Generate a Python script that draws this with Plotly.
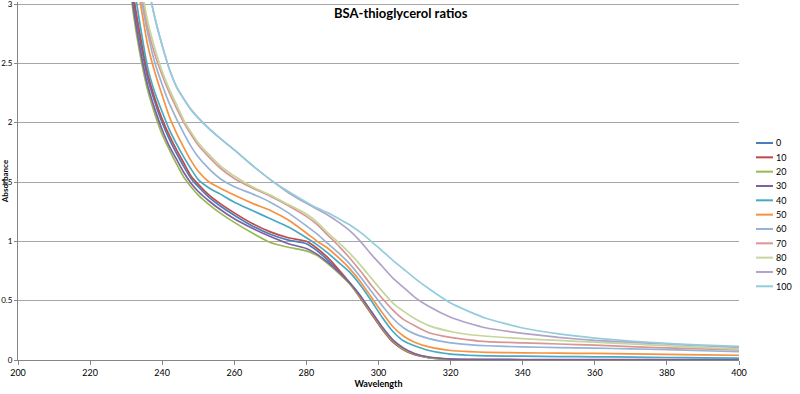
import plotly.graph_objects as go

wavelength = [226, 228, 230, 232, 234, 236, 238, 240, 242, 244, 246, 248, 250, 253, 256, 260, 265, 270, 275, 280,
              283, 286, 289, 292, 295, 298, 301, 304, 307, 310, 314, 320, 325, 330, 340, 350, 360, 370, 380, 390, 400]

ratio_0 = [4.8, 4.2, 3.6, 3.03, 2.67, 2.37, 2.17, 2.0, 1.86, 1.74, 1.63, 1.53, 1.46, 1.37, 1.30, 1.22, 1.13, 1.06, 1.01, 0.98,
           0.92, 0.84, 0.75, 0.65, 0.54, 0.40, 0.27, 0.16, 0.09, 0.05, 0.02, 0.006, 0.004, 0.003, 0.002, 0.002, 0.002, 0.002, 0.002, 0.002, 0.002]
ratio_10 = [4.9, 4.3, 3.65, 3.08, 2.72, 2.41, 2.2, 2.03, 1.89, 1.77, 1.66, 1.55, 1.48, 1.39, 1.32, 1.24, 1.15, 1.08, 1.03, 1.00,
            0.94, 0.86, 0.76, 0.65, 0.52, 0.39, 0.26, 0.15, 0.085, 0.045, 0.02, 0.006, 0.004, 0.003, 0.003, 0.003, 0.003, 0.003, 0.003, 0.003, 0.003]
ratio_20 = [4.6, 4.0, 3.45, 2.92, 2.55, 2.27, 2.07, 1.90, 1.77, 1.65, 1.54, 1.46, 1.39, 1.31, 1.24, 1.16, 1.07, 0.99, 0.95, 0.92,
            0.88, 0.81, 0.73, 0.64, 0.53, 0.40, 0.27, 0.16, 0.09, 0.05, 0.02, 0.006, 0.003, 0.002, 0.002, 0.001, 0.001, 0.001, 0.001, 0.001, 0.001]
ratio_30 = [4.7, 4.1, 3.5, 2.97, 2.6, 2.31, 2.11, 1.94, 1.80, 1.69, 1.58, 1.49, 1.42, 1.34, 1.27, 1.19, 1.11, 1.04, 0.98, 0.94,
            0.89, 0.82, 0.74, 0.65, 0.54, 0.41, 0.28, 0.17, 0.10, 0.055, 0.025, 0.008, 0.004, 0.003, 0.002, 0.002, 0.002, 0.002, 0.002, 0.002, 0.002]
ratio_40 = [5.0, 4.4, 3.8, 3.2, 2.8, 2.46, 2.25, 2.09, 1.94, 1.82, 1.71, 1.61, 1.52, 1.45, 1.40, 1.33, 1.26, 1.19, 1.12, 1.03,
            0.97, 0.90, 0.82, 0.74, 0.63, 0.50, 0.36, 0.24, 0.16, 0.12, 0.08, 0.05, 0.04, 0.035, 0.032, 0.029, 0.027, 0.024, 0.021, 0.018, 0.015]
ratio_50 = [5.3, 4.7, 4.0, 3.4, 3.0, 2.65, 2.42, 2.23, 2.05, 1.91, 1.79, 1.68, 1.59, 1.50, 1.45, 1.39, 1.32, 1.26, 1.18, 1.07,
            1.00, 0.94, 0.86, 0.77, 0.66, 0.53, 0.40, 0.28, 0.20, 0.15, 0.11, 0.08, 0.07, 0.065, 0.06, 0.058, 0.055, 0.052, 0.048, 0.044, 0.04]
ratio_60 = [5.5, 4.8, 4.15, 3.5, 3.08, 2.75, 2.5, 2.32, 2.16, 2.03, 1.91, 1.80, 1.71, 1.61, 1.53, 1.46, 1.40, 1.33, 1.24, 1.13,
            1.06, 0.98, 0.90, 0.81, 0.70, 0.58, 0.46, 0.35, 0.27, 0.22, 0.18, 0.145, 0.13, 0.12, 0.11, 0.105, 0.10, 0.094, 0.087, 0.078, 0.07]
ratio_70 = [5.6, 4.9, 4.25, 3.6, 3.15, 2.8, 2.57, 2.4, 2.25, 2.12, 2.0, 1.9, 1.81, 1.71, 1.62, 1.53, 1.45, 1.38, 1.30, 1.21,
            1.14, 1.05, 0.96, 0.86, 0.75, 0.63, 0.52, 0.42, 0.34, 0.29, 0.23, 0.19, 0.17, 0.155, 0.145, 0.135, 0.125, 0.112, 0.102, 0.093, 0.085]
ratio_80 = [5.7, 5.0, 4.3, 3.65, 3.2, 2.85, 2.62, 2.43, 2.28, 2.15, 2.02, 1.92, 1.83, 1.73, 1.64, 1.55, 1.46, 1.39, 1.31, 1.23,
            1.16, 1.07, 0.99, 0.90, 0.80, 0.69, 0.58, 0.48, 0.41, 0.35, 0.29, 0.24, 0.215, 0.20, 0.18, 0.165, 0.15, 0.135, 0.12, 0.105, 0.092]
ratio_90 = [6.0, 5.3, 4.6, 4.0, 3.55, 3.17, 2.88, 2.65, 2.45, 2.3, 2.2, 2.11, 2.04, 1.95, 1.87, 1.77, 1.64, 1.52, 1.41, 1.32,
            1.27, 1.22, 1.16, 1.09, 1.00, 0.89, 0.79, 0.69, 0.61, 0.53, 0.45, 0.36, 0.31, 0.27, 0.225, 0.19, 0.165, 0.15, 0.135, 0.12, 0.107]
ratio_100 = [6.0, 5.3, 4.6, 4.0, 3.55, 3.17, 2.88, 2.65, 2.45, 2.3, 2.2, 2.11, 2.04, 1.95, 1.87, 1.77, 1.64, 1.52, 1.42, 1.33,
             1.28, 1.24, 1.19, 1.14, 1.075, 1.0, 0.92, 0.84, 0.765, 0.69, 0.60, 0.48, 0.41, 0.35, 0.27, 0.22, 0.185, 0.16, 0.14, 0.125, 0.115]

series_names = ["0", "10", "20", "30", "40", "50", "60", "70", "80", "90", "100"]
series_values = [ratio_0, ratio_10, ratio_20, ratio_30, ratio_40, ratio_50, ratio_60, ratio_70, ratio_80, ratio_90, ratio_100]
series_colors = ["#4A7EBB", "#BE4B48", "#98B954", "#7D60A0", "#46AAC5", "#F69240",
                 "#95B3D7", "#D99694", "#C3D69B", "#B3A2C7", "#93CDDD"]

x_ticks = [200, 220, 240, 260, 280, 300, 320, 340, 360, 380, 400]
y_ticks = [0, 0.5, 1, 1.5, 2, 2.5, 3]
y_tick_labels = ["0", "0.5", "1", "1.5", "2", "2.5", "3"]

FONT = "Lato, 'Open Sans', sans-serif"

W, H = 800, 394
ML, MR, MT, MB = 18, 61, 2, 34
PW, PH = W - ML - MR, H - MT - MB
Y_TOP = 3 + 2 / (356 / 3)  # small headroom so the top grid line / "3" label is drawn


def px_to_paper(px, py):
    return (px - ML) / PW, (H - MB - py) / PH


fig = go.Figure()
for name, vals, col in zip(series_names, series_values, series_colors):
    fig.add_trace(go.Scatter(
        x=wavelength, y=vals, name=name, mode="lines",
        line=dict(color=col, width=1.7, shape="spline", smoothing=0.5),
        showlegend=False,
    ))

# compact Excel-style legend
shapes = []
annotations = []
for i, (name, col) in enumerate(zip(series_names, series_colors)):
    yy = 143 + i * 14.33
    x0, y0 = px_to_paper(756, yy)
    x1, _ = px_to_paper(773, yy)
    shapes.append(dict(type="line", xref="paper", yref="paper", x0=x0, x1=x1, y0=y0, y1=y0,
                       line=dict(color=col, width=2)))
    tx, _ = px_to_paper(774, yy)
    annotations.append(dict(text=name, xref="paper", yref="paper", x=tx, y=y0,
                            xanchor="left", yanchor="middle", showarrow=False,
                            font=dict(size=9, family=FONT, color="#000000")))

tx, ty = px_to_paper(401, 13)
annotations.append(dict(text="<b>BSA-thioglycerol ratios</b>", xref="paper", yref="paper",
                        x=tx, y=ty, xanchor="center", yanchor="middle", showarrow=False,
                        font=dict(size=13, family=FONT, color="#000000")))

fig.update_layout(
    width=W, height=H,
    margin=dict(l=ML, r=MR, t=MT, b=MB, autoexpand=False),
    paper_bgcolor="white", plot_bgcolor="white",
    font=dict(family=FONT, size=9, color="#000000"),
    showlegend=False,
    shapes=shapes,
    annotations=annotations,
)

fig.update_xaxes(
    range=[200, 400], tickvals=x_ticks, ticktext=[str(t) for t in x_ticks],
    showgrid=False, zeroline=False, automargin=False,
    showline=True, linecolor="#868686", linewidth=1,
    ticks="outside", ticklen=4, tickcolor="#868686",
    tickfont=dict(size=9, family=FONT), ticklabeloverflow="allow",
    title=dict(text="<b>Wavelength</b>", font=dict(size=9, family=FONT), standoff=2),
)
fig.update_yaxes(
    range=[0, Y_TOP], tickvals=y_ticks, ticktext=y_tick_labels,
    showgrid=True, gridcolor="#A6A6A6", gridwidth=1,
    zeroline=False, showline=True, linecolor="#868686", linewidth=1,
    automargin=False, ticklabeloverflow="allow",
    ticks="outside", ticklen=3, tickcolor="#868686",
    tickfont=dict(size=8, family=FONT),
    title=dict(text="<b>Absorbance</b>", font=dict(size=8, family=FONT), standoff=0),
)

fig.write_html("out.html", config={"displayModeBar": False},
               post_script="document.body.style.margin='0';document.body.style.overflow='hidden';")
